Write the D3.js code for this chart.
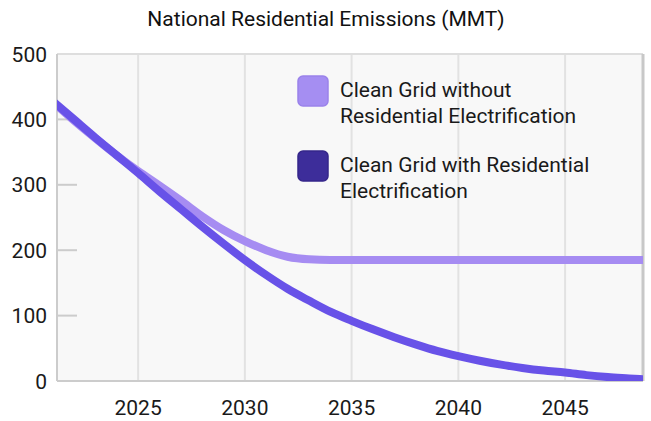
<!DOCTYPE html>
<html>
<head>
	<title>National Residential Emissions</title>
	<meta charset="utf-8">
	<style type="text/css">
		body{margin:0;background:#fff;}
		svg{font-family:Roboto, "Noto Sans", sans-serif;}
		.grid line{stroke:#e2e2e2;stroke-width:2px;}
		.line{fill:none;stroke-width:8px;stroke-linejoin:round;stroke-linecap:butt;}
		.tick-label{fill:#1a1a1a;font-size:21px;}
	</style>
</head>
<body>
<svg width="651" height="421"></svg>

<script type="text/javascript" src="https://d3js.org/d3.v7.min.js"></script>
<script type="text/javascript">
var years = [2021,2022,2023,2024,2025,2026,2027,2028,2029,2030,2031,2032,2033,2034,2035,
             2036,2037,2038,2039,2040,2041,2042,2043,2044,2045,2046,2047,2048,2049];
// Clean Grid without Residential Electrification
var withoutElec = [427,398,371,345,321,299,276,252,231,214,200,190,186,185,185,
                   185,185,185,185,185,185,185,185,185,185,185,185,185,185];
// Clean Grid with Residential Electrification
var withElec = [428,400,372,345,318,290,263,236,210,185,162,141,123,106,92,
                79,67,56,46,38,31,25,20,16,13,9,6,4,2];
var yTicks = [0,100,200,300,400,500];
var xTicks = [2025,2030,2035,2040,2045];
var seriesNames = ["Clean Grid without\nResidential Electrification","Clean Grid with Residential\nElectrification"];
var lineColors = ["#a68cf2","#6852e8"];
var legendColors = ["#a58ef2","#3d2d9a"];
var legendStrokes = ["#9a82ea","#35268a"];

var svg = d3.select("svg"),
    margin = {top: 54, left: 57, bottom: 40, right: 8},
    width  = +svg.attr("width") - margin.left - margin.right,
    height = +svg.attr("height") - margin.top - margin.bottom;

var xScale = d3.scaleLinear().domain([2021.2, 2048.65]).range([0, width]),
    yScale = d3.scaleLinear().domain([0, 500]).range([height, 0]);

// 标题
svg.append("text")
    .attr("x", 326).attr("y", 26)
    .attr("text-anchor", "middle")
    .style("font-size", "21px").style("fill", "#111")
    .text("National Residential Emissions (MMT)");

var g = svg.append("g").attr("transform", "translate(" + margin.left + "," + margin.top + ")");

// plot background
g.append("rect").attr("width", width).attr("height", height).style("fill", "#f8f8f8");

svg.append("defs").append("clipPath").attr("id", "plotClip")
    .append("rect").attr("width", width).attr("height", height);

// vertical grid
g.append("g").attr("class", "grid")
    .selectAll("line").data(xTicks).enter().append("line")
    .attr("x1", function(d){ return xScale(d); }).attr("x2", function(d){ return xScale(d); })
    .attr("y1", 0).attr("y2", height);

// short y ticks inside the plot
g.append("g").selectAll("line").data(yTicks.slice(1, -1)).enter().append("line")
    .attr("x1", 0).attr("x2", 20)
    .attr("y1", function(d){ return yScale(d); }).attr("y2", function(d){ return yScale(d); })
    .style("stroke", "#cccccc").style("stroke-width", "2px");

// frame
g.append("line").attr("x1", 0).attr("x2", width).attr("y1", 0).attr("y2", 0)
    .style("stroke", "#dedede").style("stroke-width", "2px");
g.append("line").attr("x1", width).attr("x2", width).attr("y1", 0).attr("y2", height)
    .style("stroke", "#c8c8c8").style("stroke-width", "3px");
g.append("line").attr("x1", 0).attr("x2", width).attr("y1", height).attr("y2", height)
    .style("stroke", "#cccccc").style("stroke-width", "2px");
g.append("line").attr("x1", 0).attr("x2", 0).attr("y1", 0).attr("y2", height)
    .style("stroke", "#cccccc").style("stroke-width", "2px");

// axis labels
g.append("g").selectAll("text").data(yTicks).enter().append("text")
    .attr("class", "tick-label")
    .attr("x", -10).attr("y", function(d){ return yScale(d); })
    .attr("dy", "0.36em")
    .attr("text-anchor", "end")
    .text(function(d){ return d; });

g.append("g").selectAll("text").data(xTicks).enter().append("text")
    .attr("class", "tick-label")
    .attr("x", function(d){ return xScale(d); }).attr("y", height + 34)
    .attr("text-anchor", "middle")
    .text(function(d){ return d; });

// 曲线
var line = d3.line()
    .x(function(d){ return xScale(d[0]); })
    .y(function(d){ return yScale(d[1]); })
    .curve(d3.curveMonotoneX);

var lines = g.append("g").attr("clip-path", "url(#plotClip)");
[withoutElec, withElec].forEach(function(vals, i){
    lines.append("path")
        .datum(years.map(function(y, j){ return [y, vals[j]]; }))
        .attr("class", "line")
        .attr("d", line)
        .style("stroke", lineColors[i]);
});

// legend
var legend = svg.append("g").attr("transform", "translate(297,75)");
seriesNames.forEach(function(name, i){
    var item = legend.append("g").attr("transform", "translate(0," + (i * 75) + ")");
    item.append("rect")
        .attr("x", 1).attr("y", 1).attr("width", 30).attr("height", 30).attr("rx", 5)
        .style("fill", legendColors[i]).style("stroke", legendStrokes[i]).style("stroke-width", "1.5px");
    name.split("\n").forEach(function(t, k){
        item.append("text")
            .attr("x", 43).attr("y", 21.5 + k * 26.7)
            .style("font-size", "21px").style("fill", "#1a1a1a")
            .text(t);
    });
});
</script>
</body>
</html>
